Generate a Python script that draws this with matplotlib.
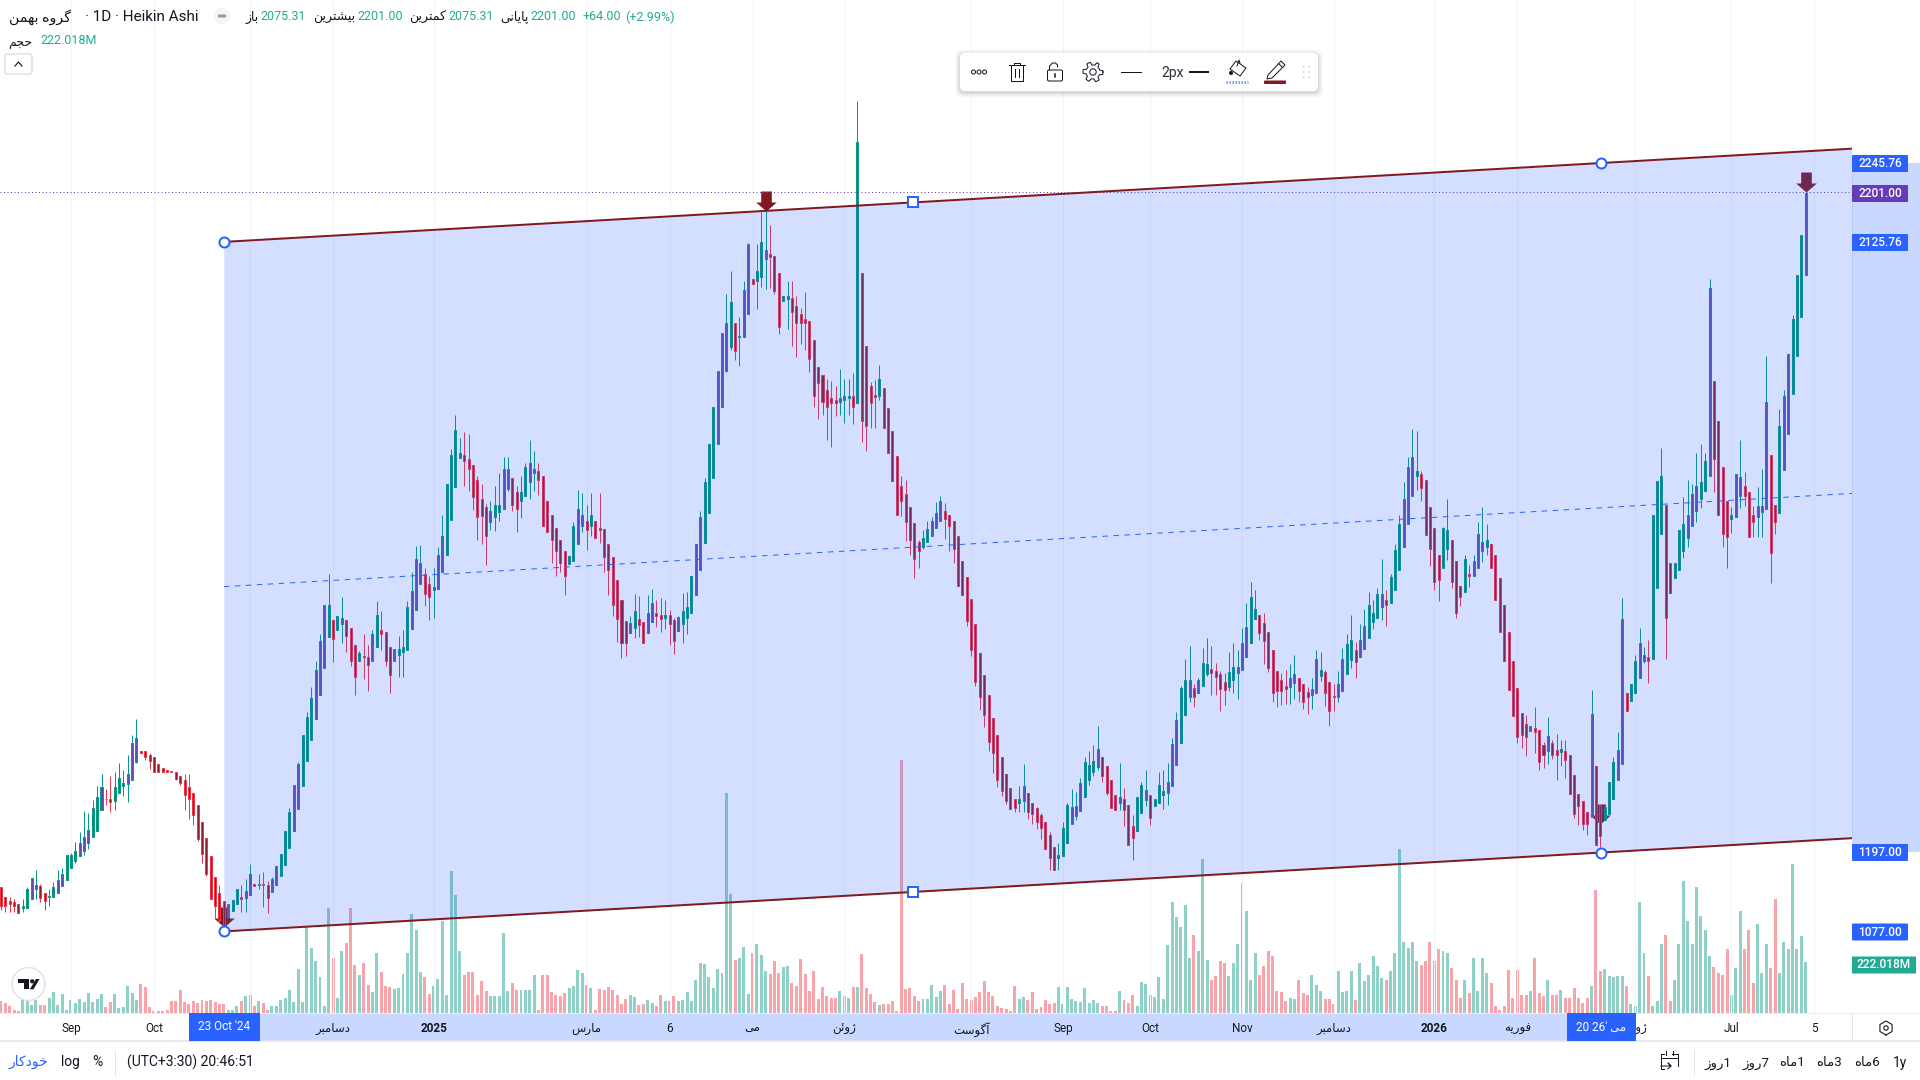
import numpy as np
import matplotlib
matplotlib.use("Agg")
import matplotlib.pyplot as plt
from matplotlib.path import Path
from matplotlib.patches import Rectangle, Circle, FancyBboxPatch, Polygon

plt.rcParams['font.family'] = ['Roboto', 'DejaVu Sans']

# daily Heikin Ashi bars
bar_open = [
    1144,1129,1123,1121,1118,1112,1113,1127,1142,1146, 1136,1130,1130,1136,1146,1155,1173,1184,1191,1200,
    1211,1220,1229,1261,1279,1278,1276,1287,1298,1301, 1308,1335,1352,1351,1346,1342,1331,1325,1322,1321,
    1319,1314,1308,1296,1287,1270,1244,1219,1191,1159, 1136,1123,1099,1108,1118,1130,1128,1133,1149,1148,
    1149,1147,1137,1148,1161,1178,1204,1230,1263,1298, 1336,1368,1400,1437,1478,1525,1550,1536,1545,1550,
    1539,1513,1489,1496,1494,1489,1510,1535,1532,1510, 1489,1498,1502,1505,1537,1566,1606,1621,1606,1596,
    1598,1624,1650,1703,1753,1797,1801,1796,1787,1763, 1735,1723,1700,1708,1715,1720,1750,1766,1746,1732,
    1740,1761,1774,1777,1770,1732,1710,1690,1673,1655, 1636,1641,1667,1694,1702,1694,1702,1691,1689,1667,
    1647,1611,1581,1549,1531,1539,1552,1547,1531,1547, 1561,1558,1554,1558,1551,1534,1545,1554,1562,1589,
    1627,1668,1714,1766,1819,1874,1930,1966,2002,1981, 1981,2016,2069,2066,2073,2099,2107,2105,2078,2036,
    2039,2041,2029,2016,2009,2006,1976,1935,1923,1901, 1889,1885,1882,1886,1889,1891,1881,2079,1967,1906,
    1893,1892,1904,1873,1838,1800,1755,1743,1722,1698, 1670,1662,1669,1679,1690,1702,1716,1710,1702,1679,
    1640,1616,1582,1544,1500,1467,1436,1401,1375,1342, 1316,1295,1279,1272,1275,1287,1272,1264,1254,1244,
    1223,1206,1188,1191,1212,1240,1252,1260,1281,1308, 1319,1327,1342,1328,1308,1285,1273,1278,1269,1238,
    1229,1257,1277,1284,1267,1272,1284,1288,1298,1330, 1363,1406,1433,1447,1439,1450,1468,1476,1473,1468,
    1457,1449,1460,1470,1474,1495,1516,1552,1559,1546, 1532,1505,1473,1459,1450,1448,1455,1462,1453,1441,
    1436,1440,1466,1471,1456,1435,1433,1443,1468,1490, 1505,1495,1507,1524,1548,1554,1571,1581,1577,1597,
    1626,1661,1697,1740,1769,1772,1763,1722,1690,1649, 1629,1659,1673,1640,1602,1594,1620,1618,1629,1655,
    1662,1667,1649,1614,1574,1532,1488,1447,1409,1393, 1382,1386,1383,1360,1352,1363,1353,1350,1352,1345,
    1315,1286,1276,1258,1251,1329,1270,1246,1256,1279, 1307,1332,1440,1427,1440,1463,1489,1495,1491,1600,
    1681,1726,1638,1615,1626,1656,1676,1694,1717,1735, 1747,1770,1914,1854,1783,1732,1705,1708,1740,1754,
    1746,1711,1707,1715,1719,1801,1726,1713,1779,1834, 1895,1952,2012,2075]
bar_close = [
    1115,1116,1119,1115,1105,1116,1141,1158,1147,1128, 1123,1131,1144,1155,1164,1193,1193,1199,1211,1220,
    1231,1264,1281,1296,1278,1274,1296,1311,1302,1316, 1363,1371,1349,1342,1336,1320,1319,1319,1319,1320,
    1309,1302,1284,1279,1254,1217,1194,1165,1126,1115, 1095,1085,1119,1125,1142,1127,1138,1164,1146,1149,
    1148,1128,1157,1177,1195,1229,1258,1299,1332,1375, 1403,1432,1475,1519,1574,1574,1522,1556,1554,1527,
    1489,1464,1500,1494,1482,1530,1559,1530,1489,1467, 1507,1507,1509,1570,1595,1644,1637,1590,1586,1601,
    1649,1678,1757,1802,1840,1804,1792,1780,1738,1708, 1709,1679,1716,1725,1726,1781,1781,1726,1720,1746,
    1784,1789,1780,1764,1693,1685,1672,1656,1637,1617, 1648,1694,1720,1711,1688,1710,1676,1687,1647,1626,
    1574,1552,1515,1515,1546,1564,1543,1515,1562,1576, 1556,1552,1559,1544,1519,1555,1564,1571,1617,1666,
    1708,1760,1818,1874,1929,1987,2003,2035,1960,1982, 2052,2122,2061,2082,2125,2113,2103,2051,1997,2043,
    2043,2019,2002,2003,2003,1947,1892,1911,1882,1875, 1880,1880,1889,1891,1892,1874,2278,1854,1846,1880,
    1890,1917,1842,1804,1762,1711,1731,1699,1672,1643, 1655,1676,1689,1701,1714,1731,1704,1693,1658,1602,
    1589,1549,1505,1457,1433,1406,1365,1349,1308,1290, 1275,1263,1264,1278,1298,1258,1255,1244,1235,1202,
    1188,1171,1193,1234,1269,1266,1267,1302,1334,1330, 1336,1355,1314,1288,1264,1261,1281,1261,1209,1219,
    1282,1299,1292,1250,1279,1299,1290,1305,1362,1398, 1447,1460,1460,1433,1460,1486,1483,1470,1464,1446,
    1444,1471,1479,1479,1515,1540,1585,1567,1531,1518, 1477,1439,1443,1442,1446,1462,1468,1443,1426,1433,
    1445,1492,1474,1440,1413,1433,1454,1491,1514,1520, 1487,1521,1541,1573,1561,1590,1590,1574,1616,1657,
    1696,1734,1784,1798,1777,1752,1680,1658,1608,1611, 1690,1687,1608,1562,1586,1644,1617,1641,1682,1669,
    1673,1629,1581,1533,1489,1444,1405,1372,1376,1373, 1389,1380,1335,1345,1374,1345,1346,1354,1338,1286,
    1255,1267,1241,1241,1408,1208,1222,1266,1304,1334, 1353,1552,1412,1454,1488,1515,1497,1489,1711,1762,
    1769,1553,1591,1638,1687,1696,1711,1742,1754,1760, 1793,2056,1795,1711,1682,1677,1711,1772,1768,1739,
    1677,1700,1724,1724,1882,1652,1700,1845,1891,1956, 2009,2075,2136,2200]
bar_high = [
    1144,1130,1130,1127,1118,1126,1144,1158,1170,1149, 1136,1141,1152,1170,1173,1193,1196,1213,1228,1260,
    1257,1277,1298,1317,1293,1314,1320,1333,1323,1346, 1375,1400,1352,1351,1348,1342,1331,1325,1322,1321,
    1319,1314,1316,1317,1287,1270,1244,1219,1191,1159, 1147,1123,1119,1125,1142,1148,1157,1180,1149,1164,
    1168,1154,1160,1177,1195,1229,1265,1299,1335,1375, 1411,1448,1489,1530,1574,1620,1550,1557,1585,1550,
    1539,1513,1504,1530,1513,1536,1580,1564,1532,1510, 1507,1526,1536,1579,1623,1663,1664,1629,1617,1630,
    1661,1710,1757,1810,1863,1827,1837,1833,1787,1769, 1757,1727,1731,1754,1775,1798,1798,1766,1754,1769,
    1789,1824,1808,1790,1770,1732,1710,1690,1673,1655, 1648,1700,1748,1744,1725,1744,1702,1744,1689,1667,
    1647,1611,1581,1549,1557,1590,1587,1547,1589,1598, 1581,1584,1581,1566,1553,1557,1591,1594,1617,1666,
    1716,1766,1818,1874,1929,1987,2046,2081,2003,2011, 2066,2124,2069,2122,2172,2174,2152,2105,2078,2044,
    2066,2066,2044,2025,2050,2006,1976,1935,1923,1917, 1914,1906,1932,1917,1917,1926,2340,2079,1967,1912,
    1915,1938,1904,1873,1838,1800,1770,1764,1722,1698, 1673,1687,1702,1708,1730,1740,1728,1710,1702,1679,
    1640,1616,1582,1544,1500,1467,1436,1401,1375,1342, 1316,1295,1279,1298,1331,1287,1272,1266,1257,1244,
    1228,1206,1212,1244,1272,1293,1289,1310,1343,1352, 1360,1390,1342,1328,1308,1285,1333,1295,1269,1254,
    1282,1304,1323,1284,1279,1319,1323,1333,1371,1410, 1451,1492,1511,1454,1463,1508,1524,1511,1485,1473,
    1470,1502,1515,1505,1538,1576,1608,1597,1559,1561, 1532,1505,1473,1470,1474,1483,1498,1462,1453,1449,
    1463,1505,1502,1474,1456,1454,1473,1508,1530,1559, 1517,1544,1568,1594,1581,1600,1643,1596,1620,1667,
    1711,1760,1798,1841,1838,1778,1763,1722,1690,1649, 1692,1734,1673,1640,1602,1649,1635,1649,1699,1722,
    1696,1667,1649,1614,1574,1532,1488,1447,1409,1406, 1389,1418,1383,1365,1403,1368,1378,1368,1368,1345,
    1315,1286,1276,1258,1444,1329,1270,1266,1304,1342, 1381,1584,1440,1454,1497,1539,1509,1521,1711,1762,
    1813,1726,1638,1638,1687,1737,1763,1757,1804,1819, 1804,2069,1914,1854,1783,1732,1722,1772,1824,1776,
    1746,1724,1753,1781,1952,1801,1726,1872,1900,1956, 2015,2075,2136,2201]
bar_low = [
    1109,1107,1107,1107,1105,1106,1113,1127,1127,1121, 1109,1115,1130,1136,1146,1155,1173,1181,1191,1193,
    1203,1220,1229,1261,1269,1258,1261,1287,1283,1274, 1308,1333,1349,1338,1324,1320,1319,1319,1319,1320,
    1307,1299,1261,1248,1239,1214,1181,1161,1126,1097, 1090,1082,1099,1108,1118,1107,1107,1133,1146,1142,
    1114,1105,1137,1148,1161,1178,1204,1230,1263,1298, 1336,1368,1400,1437,1478,1525,1487,1536,1516,1502,
    1481,1437,1489,1461,1443,1489,1510,1505,1481,1440, 1489,1464,1464,1505,1537,1566,1606,1572,1551,1554,
    1598,1624,1650,1703,1753,1797,1755,1747,1718,1673, 1667,1634,1687,1686,1701,1720,1747,1717,1685,1706,
    1740,1735,1747,1741,1693,1685,1638,1618,1623,1588, 1636,1641,1667,1684,1657,1678,1676,1668,1624,1588,
    1556,1517,1493,1496,1531,1524,1525,1515,1531,1547, 1540,1533,1537,1513,1499,1534,1516,1530,1562,1589,
    1627,1668,1714,1766,1819,1874,1928,1962,1946,1937, 1981,2016,2061,2024,2057,2054,2055,2047,1986,2036,
    1994,1968,1951,1970,1962,1928,1875,1857,1863,1825, 1814,1861,1863,1851,1863,1849,1881,1822,1808,1842,
    1843,1886,1842,1804,1762,1711,1709,1671,1650,1615, 1629,1659,1669,1679,1690,1702,1674,1655,1637,1602,
    1588,1541,1496,1451,1414,1388,1352,1318,1297,1283, 1271,1263,1259,1259,1259,1248,1241,1233,1217,1202,
    1171,1171,1171,1191,1212,1240,1247,1260,1281,1299, 1313,1322,1304,1284,1264,1261,1261,1238,1209,1185,
    1229,1257,1267,1239,1267,1272,1263,1270,1298,1330, 1363,1406,1426,1419,1439,1450,1465,1437,1436,1413,
    1421,1443,1439,1430,1474,1495,1516,1552,1520,1484, 1471,1426,1419,1421,1423,1423,1431,1426,1416,1407,
    1416,1440,1458,1420,1390,1413,1426,1443,1468,1478, 1463,1495,1507,1524,1537,1554,1551,1541,1577,1597,
    1626,1661,1697,1740,1749,1732,1680,1633,1597,1580, 1629,1642,1600,1553,1572,1594,1601,1618,1629,1639,
    1649,1629,1581,1533,1489,1444,1404,1363,1356,1344, 1382,1349,1323,1326,1331,1339,1307,1329,1310,1286,
    1249,1239,1231,1223,1251,1208,1205,1246,1256,1279, 1307,1332,1412,1427,1440,1463,1485,1455,1491,1600,
    1681,1492,1591,1615,1626,1645,1662,1694,1700,1721, 1747,1770,1745,1711,1662,1629,1683,1708,1721,1724,
    1677,1677,1677,1677,1719,1607,1682,1713,1779,1834, 1895,1952,2012,2075]
# volume in millions
bar_volume = [
    51,43,29,15,7,58,65,36,58,36, 36,65,93,36,83,15,55,43,61,46,
    87,46,61,84,25,46,81,22,25,119, 87,58,128,113,25,7,7,10,12,51,
    51,101,48,41,51,43,55,51,58,48, 39,39,15,15,32,51,72,80,29,51,
    43,15,32,32,55,65,99,50,191,46, 374,283,226,157,30,457,239,65,270,305,
    457,209,165,218,122,91,261,178,117,113, 104,109,170,261,431,361,178,157,83,117,
    148,400,78,618,513,270,165,178,178,78, 138,94,72,75,75,348,94,130,101,101,
    99,99,167,15,167,167,91,80,75,87, 109,116,189,174,123,109,15,104,101,113,
    99,80,39,61,77,68,36,39,55,43, 29,80,51,51,72,51,58,93,51,145,
    219,215,158,110,193,175,958,519,232,241, 289,84,262,302,254,184,171,228,175,202,
    206,132,119,236,171,97,184,62,115,75, 67,67,97,75,67,115,115,258,110,84,
    49,36,41,41,54,10,1102,106,110,75, 54,62,62,123,71,97,123,41,101,19,
    132,62,58,71,93,141,93,75,32,23, 19,10,119,62,71,58,93,19,28,58,
    41,45,115,41,115,62,54,49,110,45, 58,45,32,32,10,10,97,58,45,80,
    32,136,128,80,71,158,62,297,484,419, 376,471,241,341,271,671,232,145,160,225,
    218,160,218,300,565,442,145,260,167,203, 270,250,94,91,51,65,61,145,87,80,
    167,123,94,61,61,41,181,91,94,181, 58,218,138,167,250,203,152,145,181,260,
    714,309,282,309,225,210,225,309,225,280, 270,260,196,145,65,145,87,240,94,240,
    174,130,29,15,29,188,65,188,80,80, 94,240,87,72,145,80,80,101,65,65,
    109,65,43,65,116,533,181,191,160,157, 160,160,116,41,29,485,260,160,29,51,
    300,340,51,145,300,575,400,300,549,420, 362,250,200,174,167,280,80,196,442,280,
    362,130,389,174,300,196,495,174,309,280, 650,280,336,222]

# time axis (the tick at bar 57 has its label hidden by the date box)
tick_bars = [16, 35, 57, 76, 99, 134, 153, 172, 193, 222, 243, 263, 284, 305, 328, 347, 374, 396, 415]
tick_labels = ['Sep', 'Oct', '', 'دسامبر', '2025', 'مارس', '6', 'می', 'ژوئن', 'آگوست', 'Sep', 'Oct', 'Nov',
               'دسامبر', '2026', 'فوریه', 'ژوئن', 'Jul', '5']

# parallel channel
channel_bars = [51, 366.25]
channel_upper = [2125.76, 2245.76]
channel_lower = [1077.00, 1197.00]
arrow_bars = [51, 175, 366, 413]
arrow_prices = [1084, 2173, 1240, 2201]
last_price = 2201.00

GREEN = '#089981'
RED = '#f23645'
BLUE = '#2962ff'
MAROON = '#801922'
INK = '#131722'
LABEL_GREEN = '#22ab94'
PURPLE = '#673ab7'
PX = 0.72   # one pixel in points at dpi 100

# Arabic letters: isolated, final, initial, medial
FORMS = {'ا': (0xFE8D, 0xFE8E), 'آ': (0xFE81, 0xFE82), 'ب': (0xFE8F, 0xFE90, 0xFE91, 0xFE92),
         'پ': (0xFB56, 0xFB57, 0xFB58, 0xFB59), 'ت': (0xFE95, 0xFE96, 0xFE97, 0xFE98),
         'ج': (0xFE9D, 0xFE9E, 0xFE9F, 0xFEA0), 'ح': (0xFEA1, 0xFEA2, 0xFEA3, 0xFEA4),
         'خ': (0xFEA5, 0xFEA6, 0xFEA7, 0xFEA8), 'د': (0xFEA9, 0xFEAA), 'ر': (0xFEAD, 0xFEAE),
         'ز': (0xFEAF, 0xFEB0), 'ژ': (0xFB8A, 0xFB8B), 'س': (0xFEB1, 0xFEB2, 0xFEB3, 0xFEB4),
         'ش': (0xFEB5, 0xFEB6, 0xFEB7, 0xFEB8), 'ف': (0xFED1, 0xFED2, 0xFED3, 0xFED4),
         'ک': (0xFB8E, 0xFB8F, 0xFB90, 0xFB91), 'گ': (0xFB92, 0xFB93, 0xFB94, 0xFB95),
         'م': (0xFEE1, 0xFEE2, 0xFEE3, 0xFEE4), 'ن': (0xFEE5, 0xFEE6, 0xFEE7, 0xFEE8),
         'و': (0xFEED, 0xFEEE), 'ه': (0xFEE9, 0xFEEA, 0xFEEB, 0xFEEC),
         'ی': (0xFBFC, 0xFBFD, 0xFBFE, 0xFBFF), 'ئ': (0xFE89, 0xFE8A, 0xFE8B, 0xFE8C)}


def fa(text):
    # matplotlib does no shaping or bidi, so join the letters and lay them out right to left
    if not any(ch in FORMS for ch in text):
        return text
    out = []
    for i, ch in enumerate(text):
        if ch not in FORMS:
            out.append(ch)
            continue
        prev_ch = text[i - 1] if i > 0 else ''
        next_ch = text[i + 1] if i + 1 < len(text) else ''
        joins_prev = prev_ch in FORMS and len(FORMS[prev_ch]) == 4
        joins_next = next_ch in FORMS and len(FORMS[ch]) == 4
        if joins_prev and joins_next:
            form = 3
        elif joins_prev:
            form = 1
        elif joins_next:
            form = 2
        else:
            form = 0
        out.append(chr(FORMS[ch][form]))
    return ''.join(reversed(out))


bar_open = np.array(bar_open, float)
bar_close = np.array(bar_close, float)
bar_high = np.array(bar_high, float)
bar_low = np.array(bar_low, float)
bar_volume = np.array(bar_volume, float)
bars = np.arange(len(bar_open))
rising = bar_close >= bar_open

fig = plt.figure(figsize=(19.2, 10.8), dpi=100, facecolor='white')
plot_rect = [0, 67 / 1080, 1852 / 1920, 1013 / 1080]
xlim = (-0.229, 423.6)


def ui_axes(z):
    a = fig.add_axes([0, 0, 1, 1], zorder=z)
    a.set_xlim(0, 1920)
    a.set_ylim(1080, 0)
    a.axis('off')
    return a


back = ui_axes(0)
back.add_patch(Rectangle((224, 1013), 1377, 28, fc='#c9d8ff', ec='none'))
back.add_patch(Rectangle((1852, 163), 68, 689, fc='#c9d8ff', ec='none'))
back.plot([0, 1920], [1041, 1041], color='#e0e3eb', lw=1.5 * PX)
back.plot([0, 1920], [1013, 1013], color='#e9ecf2', lw=1 * PX)
back.plot([1852, 1852], [1013, 1041], color='#e0e3eb', lw=1 * PX)

# volume sits under the candles and takes the channel tint
vol = fig.add_axes(plot_rect, zorder=1)
vol.patch.set_alpha(0)
vol.set_xlim(*xlim)
vol.set_ylim(0, 1013 * 4.35)
vol.vlines(tick_bars, 0, 1013 * 4.35, color='#f0f3fa', lw=1 * PX)
vol.bar(bars, bar_volume, width=0.68, color=np.where(rising, GREEN, RED), alpha=0.45)
vol.axis('off')

ax = fig.add_axes(plot_rect, zorder=2)
ax.patch.set_alpha(0)
ax.set_xlim(*xlim)
ax.set_ylim(952.9, 2493.7)
for s in ax.spines.values():
    s.set_visible(False)
ax.yaxis.set_visible(False)
ax.set_xticks(tick_bars, [fa(t) for t in tick_labels])
ax.tick_params(axis='x', length=0, pad=6.5, labelsize=8.5, labelcolor=INK)
for lab, t in zip(ax.get_xticklabels(), tick_labels):
    if t in ('2025', '2026'):
        lab.set_fontweight('bold')

# arrows lie behind the candles
arrow = Path([(-5.3, 20), (5.3, 20), (5.3, 9), (10.3, 9), (0, 0), (-10.3, 9), (-5.3, 9), (-5.3, 20)], closed=True)
ax.plot(arrow_bars, arrow_prices, ls='none', marker=arrow, ms=40 * PX, mfc=MAROON, mec='none', zorder=2.5)

# candles
ax.vlines(bars[rising], bar_low[rising], bar_high[rising], color=GREEN, lw=1 * PX, zorder=3)
ax.vlines(bars[~rising], bar_low[~rising], bar_high[~rising], color=RED, lw=1 * PX, zorder=3)
ax.bar(bars[rising], (bar_close - bar_open)[rising], bottom=bar_open[rising], width=0.46,
       fc='#5e4fb5', ec=GREEN, lw=1 * PX, zorder=4)
ax.bar(bars[~rising], (bar_close - bar_open)[~rising], bottom=bar_open[~rising], width=0.46,
       fc='#8a1f35', ec=RED, lw=1 * PX, zorder=4)

ax.axhline(last_price, color=PURPLE, lw=1 * PX, ls=(0, (1, 2.5)), zorder=4)

# channel: fill, borders, median, handles
slope = (channel_upper[1] - channel_upper[0]) / (channel_bars[1] - channel_bars[0])
ch_x = np.array([channel_bars[0], xlim[1]])
ch_up = channel_upper[0] + slope * (ch_x - channel_bars[0])
ch_lo = channel_lower[0] + slope * (ch_x - channel_bars[0])
ax.fill_between(ch_x, ch_lo, ch_up, color=BLUE, alpha=0.2, lw=0, zorder=6)
ax.plot(ch_x, ch_up, color=MAROON, lw=2 * PX, zorder=7)
ax.plot(ch_x, ch_lo, color=MAROON, lw=2 * PX, zorder=7)
ax.plot(ch_x, (ch_up + ch_lo) / 2, color=BLUE, lw=1 * PX, ls=(0, (5.5, 5.5)), zorder=7)
mid_bar = sum(channel_bars) / 2
ax.plot(channel_bars * 2, channel_upper + channel_lower, ls='none', marker='o', ms=10 * PX, mfc='white',
        mec=BLUE, mew=2 * PX, zorder=8, clip_on=False)
ax.plot([mid_bar, mid_bar], [sum(channel_upper) / 2, sum(channel_lower) / 2], ls='none', marker='s',
        ms=9.5 * PX, mfc='white', mec=BLUE, mew=2 * PX, zorder=8)

ui = ui_axes(3)

# legend rows
ui.text(9, 17, fa('گروه بهمن'), fontsize=10.2, color=INK, va='center')
ui.text(85, 17, '· 1D · Heikin Ashi', fontsize=11, color=INK, va='center')
ui.add_patch(FancyBboxPatch((214, 8), 16, 16, boxstyle='round,pad=0,rounding_size=8', fc='#f0f3fa', ec='none'))
ui.add_patch(FancyBboxPatch((218, 14.5), 8, 3, boxstyle='round,pad=0,rounding_size=1', fc='#9598a1', ec='none'))
legend_items = [(246, 'باز', INK), (260, '2075.31', LABEL_GREEN), (313, 'بیشترین', INK), (357, '2201.00', LABEL_GREEN),
                (409, 'کمترین', INK), (448, '2075.31', LABEL_GREEN), (500, 'پایانی', INK), (530, '2201.00', LABEL_GREEN),
                (582, '+64.00', LABEL_GREEN), (625, '(+2.99%)', LABEL_GREEN)]
for x, s, c in legend_items:
    ui.text(x, 17, fa(s), fontsize=9, color=c, va='center')
ui.text(8, 42.5, fa('حجم'), fontsize=9, color=INK, va='center')
ui.text(40, 41, '222.018M', fontsize=9, color=LABEL_GREEN, va='center')
ui.add_patch(FancyBboxPatch((5, 54), 27, 20, boxstyle='round,pad=0,rounding_size=2', fc='white', ec='#d1d4dc', lw=1 * PX))
ui.plot([15, 18.5, 22], [66, 62, 66], color=INK, lw=1.2 * PX)

# price axis labels
price_labels = [('2245.76', 163.5, BLUE, 56), ('2201.00', 193.5, PURPLE, 56), ('2125.76', 242.5, BLUE, 56),
                ('1197.00', 852.5, BLUE, 56), ('1077.00', 932, BLUE, 56), ('222.018M', 965, LABEL_GREEN, 64)]
for s, y, c, w in price_labels:
    ui.add_patch(FancyBboxPatch((1852, y - 8.5), w, 17, boxstyle='round,pad=0,rounding_size=1', fc=c, ec='none'))
    ui.text(1852 + w / 2, y, s, color='white', fontsize=8.6, fontweight='medium', ha='center', va='center')

# crosshair date labels on the time axis
for x0, x1, s in [(189, 260, "23 Oct '24"), (1567, 1636, "20 26' " + fa('می'))]:
    ui.add_patch(Rectangle((x0, 1013), x1 - x0, 27.5, fc=BLUE, ec='none'))
    ui.text((x0 + x1) / 2, 1027, s, color='white', fontsize=8.5, ha='center', va='center')

# settings gear under the price axis
hx = 1886 + 7 * np.sin(np.arange(7) * np.pi / 3)
hy = 1028 + 7 * np.cos(np.arange(7) * np.pi / 3)
ui.plot(hx, hy, color=INK, lw=1.1 * PX)
ui.add_patch(Circle((1886, 1028), 2.2, fc='none', ec=INK, lw=1.1 * PX))

# bottom bar
ui.text(9, 1062, fa('خودکار'), fontsize=10, color=BLUE, va='center')
ui.text(61, 1062, 'log', fontsize=10, color=INK, va='center')
ui.text(92, 1062, '%', fontsize=10, color=INK, va='center')
ui.plot([115, 115], [1050, 1075], color='#e0e3eb', lw=1 * PX)
ui.text(127, 1062, '(UTC+3:30) 20:46:51', fontsize=10, color=INK, va='center')
ui.plot([1694, 1694], [1050, 1075], color='#e0e3eb', lw=1 * PX)
for x, s in [(1704, '1روز'), (1742, '7روز'), (1779, '1ماه'), (1816, '3ماه'), (1854, '6ماه')]:
    ui.text(x, 1063, fa(s[1:]) + s[0], fontsize=9.5, color=INK, va='center')
ui.text(1893, 1063, '1y', fontsize=10, color=INK, va='center')
# go-to-date icon
ui.plot([1664, 1661, 1661, 1664], [1069, 1069, 1054, 1054], color=INK, lw=1 * PX)
ui.plot([1672, 1678, 1678], [1054, 1054, 1066], color=INK, lw=1 * PX)
ui.plot([1661, 1678], [1058, 1058], color=INK, lw=1 * PX)
ui.plot([1666, 1666], [1051, 1055], color=INK, lw=1 * PX)
ui.plot([1673, 1673], [1051, 1055], color=INK, lw=1 * PX)
ui.plot([1661, 1671, 1668, 1671, 1668], [1066, 1066, 1063, 1066, 1069], color=INK, lw=1 * PX)

# TradingView badge
ui.add_patch(Circle((28.5, 984), 16.5, fc='white', ec='#e0e3eb', lw=1.5 * PX))
ui.add_patch(Polygon([(17.7, 979), (29, 979), (29, 989.3), (23.5, 989.3), (23.5, 983), (17.7, 983)], fc=INK, ec='none'))
ui.add_patch(Circle((32.2, 981.3), 2.1, fc=INK, ec='none'))
ui.add_patch(Polygon([(36, 979), (39.5, 979), (33.5, 989.3), (29.8, 989.3)], fc=INK, ec='none'))

# floating drawing toolbar
for grow, a in [(5, 0.03), (3, 0.05), (1.5, 0.07)]:
    ui.add_patch(FancyBboxPatch((960 - grow, 53 - grow + 1.5), 358 + 2 * grow, 38 + 2 * grow,
                                boxstyle='round,pad=0,rounding_size=7', fc='black', ec='none', alpha=a))
ui.add_patch(FancyBboxPatch((960, 53), 358, 38, boxstyle='round,pad=0,rounding_size=5', fc='white', ec='none'))
for x in (973.5, 979, 984.5):
    ui.add_patch(Circle((x, 72), 2, fc='none', ec=INK, lw=1 * PX))
# trash
ui.plot([1009, 1025], [65, 65], color=INK, lw=1 * PX)
ui.plot([1014, 1014, 1020, 1020], [65, 63, 63, 65], color=INK, lw=1 * PX)
ui.plot([1011, 1011, 1023, 1023], [65, 81, 81, 65], color=INK, lw=1 * PX)
ui.plot([1015, 1015], [69, 77], color=INK, lw=1 * PX)
ui.plot([1019, 1019], [69, 77], color=INK, lw=1 * PX)
# open lock
ui.add_patch(FancyBboxPatch((1047.5, 70), 15, 11, boxstyle='round,pad=0,rounding_size=1.5', fc='none', ec=INK, lw=1 * PX))
ui.plot([1049.5, 1049.5, 1052.5, 1055.5, 1057.5, 1057.5], [70, 66, 63, 63, 65, 67], color=INK, lw=1 * PX)
ui.plot([1055, 1055], [74, 77], color=INK, lw=1.5 * PX)
# gear
gear_a = np.linspace(0, 2 * np.pi, 49)
gear_r = 8.5 + 1.5 * np.sign(np.cos(6 * gear_a))
ui.plot(1093 + gear_r * np.cos(gear_a), 72 + gear_r * np.sin(gear_a), color=INK, lw=1 * PX)
ui.add_patch(Circle((1093, 72), 3.2, fc='none', ec=INK, lw=1 * PX))
# line style and width
ui.plot([1121, 1141], [71.5, 71.5], color=INK, lw=1 * PX)
ui.text(1161, 72.5, '2px', fontsize=10, color='#2a2e39', va='center')
ui.plot([1190, 1208], [71.5, 71.5], color=INK, lw=2 * PX)
# fill bucket
ui.add_patch(Polygon([(1236, 61), (1246, 68), (1240, 76), (1230, 69)], fc='white', ec=INK, lw=1 * PX))
ui.plot([1237, 1239, 1240], [66, 60, 63], color=INK, lw=1 * PX)
ui.add_patch(Circle((1231, 73), 2, fc=INK, ec='none'))
ui.plot([1226, 1248], [82, 82], color='#7f9df5', lw=3 * PX, ls=(0, (0.5, 0.5)))
# pencil
ui.add_patch(Polygon([(1268, 75), (1281, 61), (1285, 65), (1272, 78), (1267, 79)], fc='white', ec=INK, lw=1 * PX))
ui.plot([1278.5, 1282.5], [63.5, 67.5], color=INK, lw=1 * PX)
ui.add_patch(FancyBboxPatch((1264, 80.5), 22, 3.5, boxstyle='round,pad=0,rounding_size=1', fc=MAROON, ec='none'))
# drag dots
for x in (1303.5, 1309):
    for y in (67, 72, 77):
        ui.add_patch(Circle((x, y), 0.9, fc='#d1d4dc', ec='none'))

fig.savefig('out.png', dpi=100, facecolor='white')
